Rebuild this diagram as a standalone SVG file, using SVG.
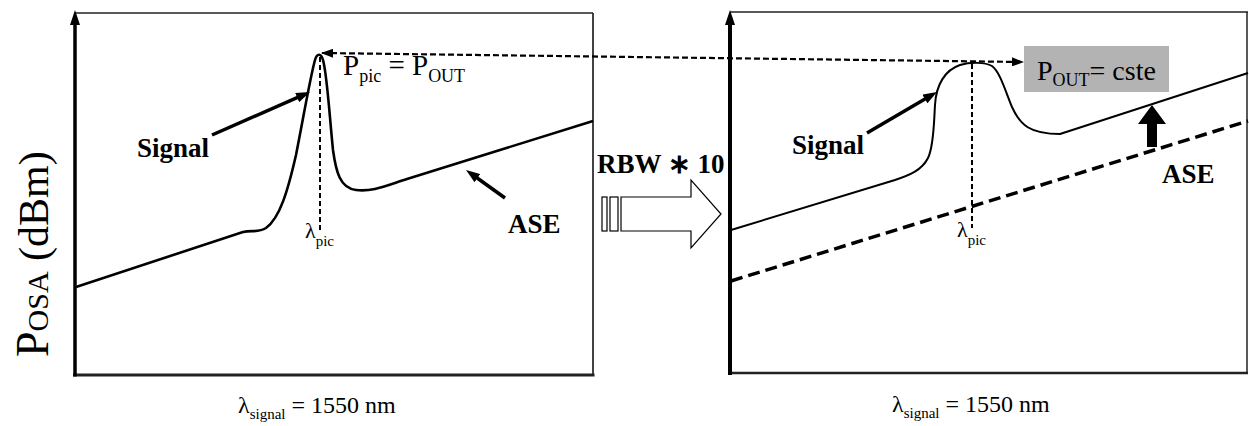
<svg xmlns="http://www.w3.org/2000/svg" width="1249" height="426" viewBox="0 0 1249 426" font-family="'Liberation Serif', 'Times New Roman', serif">
<style>
  .t { font-family: 'Liberation Serif', 'Times New Roman', serif; fill: #000; }
  .bold { font-family: 'Liberation Serif', 'Times New Roman', serif; font-weight: bold; font-size: 27px; }
  .frame { stroke: #222; fill: none; }
  .curve { stroke: #000; fill: none; stroke-linejoin: round; }
  .vdash { stroke: #000; stroke-width: 2; stroke-dasharray: 5 3; fill: none; }
  .thick { stroke: #000; stroke-width: 3.5; fill: none; }
</style>
<defs>
  <marker id="head" viewBox="0 0 14 10" refX="8" refY="5" markerWidth="14" markerHeight="10" markerUnits="userSpaceOnUse" orient="auto">
    <path d="M0,0 L14,5 L0,10 z" fill="#000"/>
  </marker>
  <marker id="dhead" viewBox="0 0 12 9" refX="11" refY="4.5" markerWidth="12" markerHeight="9" markerUnits="userSpaceOnUse" orient="auto-start-reverse">
    <path d="M0,0 L12,4.5 L0,9 z" fill="#000"/>
  </marker>
</defs>
<rect width="1249" height="426" fill="#fff"/>

<g id="y-label">
  <text class="t" font-family="Liberation Serif, serif" transform="translate(48,357) rotate(-90)"><tspan font-size="46">P</tspan><tspan font-size="30">OSA</tspan><tspan font-size="42"> (dBm)</tspan></text>
</g>

<g id="left-panel">
  <line class="frame" x1="75" y1="13" x2="593" y2="13" stroke-width="1.5"/>
  <line class="frame" x1="593" y1="13" x2="593" y2="375" stroke-width="1.7"/>
  <line class="frame" x1="73" y1="375" x2="594.5" y2="375" stroke-width="3"/>
  <line x1="75" y1="376.5" x2="75" y2="22" stroke="#000" stroke-width="3.5"/>
  <polygon points="75,10 70,25 80,25" fill="#000"/>
  <path class="curve" stroke-width="2.6" d="M76,287 L243,232 C252,230 258,233 266,228 C280,218 288,190 296,155 C303,120 310,78 315,60 C317,53 321,53 323,60 C327,74 329,110 333,150 C336,172 340,188 356,190 C372,192 385,186 407,179 L593,121"/>
  <line class="vdash" x1="320" y1="57" x2="320" y2="230"/>
  <text class="t" font-family="Liberation Serif, serif" x="305" y="238" font-size="22">λ<tspan font-size="15" dy="8">pic</tspan></text>
  <text class="t" font-family="Liberation Serif, serif" x="343" y="75" font-size="29">P<tspan font-size="18" dy="7">pic</tspan><tspan dy="-7"> = P</tspan><tspan font-size="18" dy="7">OUT</tspan></text>
  <text class="bold" font-family="Liberation Serif, serif" x="137" y="157">Signal</text>
  <text class="bold" font-family="Liberation Serif, serif" x="508" y="233">ASE</text>
  <text class="t" font-family="Liberation Serif, serif" x="238" y="413" font-size="24">λ<tspan font-size="15" dy="6">signal</tspan><tspan dy="-6"> = 1550 nm</tspan></text>
</g>

<g id="rbw-arrow">
  <text class="bold" font-family="Liberation Serif, serif" x="597" y="173">RBW ∗ 10</text>
  <rect x="602" y="197" width="5" height="34" fill="#fff" stroke="#000" stroke-width="1.2"/>
  <rect x="610" y="197" width="8" height="34" fill="#fff" stroke="#000" stroke-width="1.2"/>
  <path d="M621,197 L691,197 L691,180 L721,214 L691,248 L691,231 L621,231 Z" fill="#fff" stroke="#000" stroke-width="1.2"/>
</g>

<g id="right-panel">
  <line class="frame" x1="730" y1="12" x2="1248" y2="12" stroke-width="1.5"/>
  <line class="frame" x1="1247" y1="12" x2="1247" y2="373" stroke-width="1.5"/>
  <line class="frame" x1="728" y1="373" x2="1248" y2="373" stroke-width="2.5"/>
  <line x1="730" y1="375" x2="730" y2="22" stroke="#000" stroke-width="4"/>
  <polygon points="730,10 725,25 735,25" fill="#000"/>
  <path class="curve" stroke-width="2" d="M731,230 L895,180 C910,175 922,170 928,158 C934,146 934,120 935,105 C936,85 945,70 960,65 C970,62 985,62 992,66 C1000,72 1005,90 1012,107 C1020,125 1030,134 1060,134 L1248,73"/>
  <line x1="731" y1="281" x2="1248" y2="121" stroke="#000" stroke-width="3.5" stroke-dasharray="12 6"/>
  <line class="vdash" x1="972" y1="64" x2="972" y2="228"/>
  <text class="t" font-family="Liberation Serif, serif" x="957" y="237" font-size="22">λ<tspan font-size="15" dy="8">pic</tspan></text>
  <rect x="1024" y="46" width="145" height="46" fill="#b3b3b3"/>
  <text class="t" font-family="Liberation Serif, serif" x="1037" y="80" font-size="28">P<tspan font-size="18" dy="6">OUT</tspan><tspan dy="-6">= cste</tspan></text>
  <polygon points="1147,147 1147,124 1138,124 1152,105 1166,124 1157,124 1157,147" fill="#000"/>
  <text class="bold" font-family="Liberation Serif, serif" x="792" y="154">Signal</text>
  <text class="bold" font-family="Liberation Serif, serif" x="1162" y="183">ASE</text>
  <text class="t" font-family="Liberation Serif, serif" x="892" y="412" font-size="24">λ<tspan font-size="15" dy="6">signal</tspan><tspan dy="-6"> = 1550 nm</tspan></text>
</g>

<g id="connectors">
  <line x1="322" y1="53" x2="1023" y2="62" stroke="#000" stroke-width="2.2" stroke-dasharray="6 3" marker-start="url(#dhead)" marker-end="url(#dhead)"/>
  <line class="thick" x1="212" y1="135" x2="304.5" y2="94.4" marker-end="url(#head)"/>
  <line class="thick" x1="505" y1="198" x2="470.9" y2="173.5" marker-end="url(#head)"/>
  <line class="thick" x1="867" y1="133" x2="931.8" y2="95" marker-end="url(#head)"/>
</g>
</svg>
